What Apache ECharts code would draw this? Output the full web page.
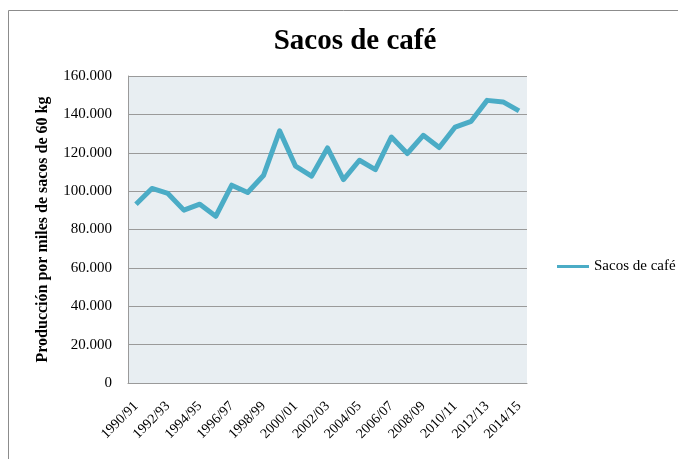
<!DOCTYPE html>
<html>
<head>
<meta charset="utf-8">
<script src="https://cdn.jsdelivr.net/npm/echarts@6/dist/echarts.min.js"></script>
<style>
  html, body { margin: 0; padding: 0; background: #fff; }
  #chart { width: 678px; height: 459px; }
</style>
</head>
<body>
<div id="chart"></div>
<script>
// campañas cafeteras
var seasons = [
  '1990/91', '1991/92', '1992/93', '1993/94', '1994/95', '1995/96', '1996/97',
  '1997/98', '1998/99', '1999/00', '2000/01', '2001/02', '2002/03', '2003/04',
  '2004/05', '2005/06', '2006/07', '2007/08', '2008/09', '2009/10', '2010/11',
  '2011/12', '2012/13', '2013/14', '2014/15'
];
// miles de sacos de 60 kg
var sacos = [
  93200, 101400, 98800, 90100, 93200, 86900, 103100, 99300, 108300, 131400,
  113000, 107800, 122500, 106000, 116100, 111200, 128200, 119600, 129100, 122700,
  133400, 136400, 147300, 146500, 141800
];

var serif = '"Liberation Serif", "DejaVu Serif", serif';

function fmtMiles(v) {
  if (v === 0) return '0';
  var k = Math.floor(v / 1000);
  var r = String(v % 1000);
  while (r.length < 3) r = '0' + r;
  return k + '.' + r;
}

var chart = echarts.init(document.getElementById('chart'), null, { renderer: 'canvas' });
chart.setOption({
  animation: false,
  backgroundColor: '#fff',
  title: {
    text: 'Sacos de café',
    left: 350,
    textAlign: 'center',
    top: 22,
    textStyle: { fontFamily: serif, fontSize: 29, fontWeight: 'bold', color: '#000' }
  },
  legend: {
    orient: 'vertical',
    left: 552,
    top: 254,
    itemWidth: 32,
    itemHeight: 3,
    itemGap: 4,
    icon: 'rect',
    textStyle: { fontFamily: serif, fontSize: 15, color: '#000' },
    data: ['Sacos de café']
  },
  grid: {
    left: 128,
    top: 76,
    right: 151,
    bottom: 76,
    show: true,
    backgroundColor: '#e8eef2',
    borderWidth: 0
  },
  graphic: [{
    type: 'rect',
    shape: { x: 8.5, y: 10.5, width: 720, height: 520 },
    style: { fill: 'none', stroke: '#8c8c8c', lineWidth: 1 },
    silent: true
  }],
  xAxis: {
    type: 'category',
    data: seasons,
    boundaryGap: true,
    axisLine: { lineStyle: { color: '#9a9a9a', width: 1 } },
    axisTick: { show: false },
    axisLabel: {
      interval: 1,
      rotate: 45,
      margin: 21,
      fontFamily: serif,
      fontSize: 14,
      color: '#000'
    }
  },
  yAxis: {
    type: 'value',
    min: 0,
    max: 160000,
    interval: 20000,
    name: 'Producción por miles de sacos de 60 kg',
    nameLocation: 'middle',
    nameGap: 77,
    nameTextStyle: { fontFamily: serif, fontSize: 16, fontWeight: 'bold', color: '#000' },
    axisLine: { show: true, lineStyle: { color: '#9a9a9a', width: 1 } },
    axisTick: { show: false },
    splitLine: { lineStyle: { color: '#9a9a9a', width: 1 } },
    axisLabel: {
      formatter: fmtMiles,
      margin: 16,
      fontFamily: serif,
      fontSize: 15,
      color: '#000'
    }
  },
  series: [{
    type: 'line',
    name: 'Sacos de café',
    data: sacos,
    showSymbol: false,
    symbol: 'none',
    itemStyle: { color: '#4bacc6' },
    lineStyle: { color: '#4bacc6', width: 5, join: 'round' }
  }]
});
window.addEventListener('resize', function() { chart.resize(); });
</script>
</body>
</html>
